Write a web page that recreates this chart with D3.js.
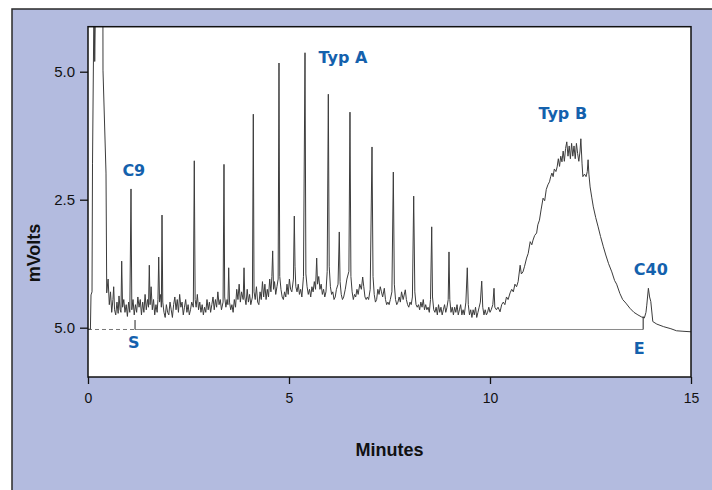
<!DOCTYPE html>
<html>
<head>
<meta charset="utf-8">
<script src="https://cdn.jsdelivr.net/npm/d3@7"></script>
<style>
  body { margin: 0; background: #fff; }
  svg { display: block; }
</style>
</head>
<body>
<div id="chart"></div>
<script>
// Dimensions
const width = 712, height = 490;
const plot = { left: 88, right: 691, top: 26.7, bottom: 377 };

const trace = [
  [0.00, -0.03], [0.06, -0.03], [0.075, 0.64], [0.10, 0.70], [0.112, 3.2], [0.15, 6.5], [0.167, 5.2], [0.19, 6.5],
  [0.37, 6.5], [0.373, 5.03], [0.448, 3.02], [0.466, 0.68],
  [0.50, 0.95], [0.53, 0.45], [0.56, 0.70], [0.59, 0.30], [0.62, 0.55], [0.639, 0.80], [0.66, 0.35], [0.69, 0.25],
  [0.72, 0.50], [0.75, 0.28], [0.771, 0.62], [0.80, 0.35], [0.82, 0.30], [0.838, 1.30], [0.86, 0.40], [0.89, 0.55],
  [0.92, 0.30], [0.95, 0.45], [0.98, 0.22], [1.01, 0.50], [1.04, 0.30], [1.07, 2.71], [1.09, 0.35], [1.12, 0.55],
  [1.15, 0.25], [1.18, 0.45], [1.21, 0.30], [1.24, 0.60], [1.27, 0.40], [1.30, 0.55], [1.33, 0.25], [1.36, 0.50],
  [1.39, 0.30], [1.42, 0.65], [1.45, 0.35], [1.48, 0.55], [1.505, 0.40], [1.525, 1.22], [1.545, 0.45], [1.57, 0.80],
  [1.60, 0.35], [1.63, 0.55], [1.66, 0.25], [1.69, 0.45], [1.72, 0.30], [1.74, 0.55], [1.759, 1.38], [1.78, 0.50],
  [1.81, 0.65], [1.825, 0.40], [1.841, 2.20], [1.86, 0.50], [1.89, 0.30], [1.92, 0.20], [1.95, 0.45], [1.98, 0.30],
  [2.01, 0.25], [2.04, 0.50], [2.07, 0.35], [2.10, 0.20], [2.13, 0.45], [2.16, 0.60], [2.19, 0.35], [2.22, 0.55],
  [2.25, 0.30], [2.28, 0.65], [2.31, 0.40], [2.34, 0.50], [2.37, 0.25], [2.40, 0.40], [2.43, 0.55], [2.46, 0.30],
  [2.49, 0.45], [2.52, 0.25], [2.55, 0.35], [2.58, 0.50], [2.62, 0.40], [2.644, 3.26], [2.665, 0.55], [2.69, 0.40],
  [2.72, 0.65], [2.75, 0.35], [2.78, 0.50], [2.81, 0.30], [2.84, 0.45], [2.87, 0.25], [2.90, 0.40], [2.93, 0.30],
  [2.96, 0.55], [2.99, 0.35], [3.02, 0.50], [3.05, 0.30], [3.08, 0.45], [3.11, 0.60], [3.14, 0.35], [3.17, 0.55],
  [3.20, 0.40], [3.23, 0.70], [3.26, 0.45], [3.29, 0.55], [3.32, 0.35], [3.36, 0.50], [3.383, 3.19], [3.40, 0.60],
  [3.43, 0.40], [3.46, 0.55], [3.48, 0.45], [3.50, 1.17], [3.52, 0.50], [3.55, 0.35], [3.58, 0.45], [3.61, 0.30],
  [3.64, 0.55], [3.67, 0.40], [3.70, 0.75], [3.73, 0.55], [3.76, 0.85], [3.79, 0.50], [3.82, 0.70], [3.86, 0.55],
  [3.881, 1.17], [3.90, 0.60], [3.93, 0.45], [3.96, 0.75], [3.99, 0.50], [4.02, 0.65], [4.05, 0.45], [4.09, 0.60],
  [4.112, 4.17], [4.13, 0.70], [4.16, 0.55], [4.19, 0.80], [4.22, 0.50], [4.25, 0.45], [4.28, 0.70], [4.31, 0.55],
  [4.34, 0.90], [4.37, 0.60], [4.40, 0.85], [4.43, 0.55], [4.46, 0.75], [4.49, 0.60], [4.52, 0.95], [4.55, 0.70],
  [4.574, 1.00], [4.594, 1.50], [4.615, 0.75], [4.64, 0.90], [4.67, 0.65], [4.70, 0.80], [4.73, 0.95], [4.751, 5.17],
  [4.77, 1.00], [4.80, 0.75], [4.83, 0.60], [4.86, 0.55], [4.89, 0.70], [4.92, 0.60], [4.95, 0.85], [4.98, 0.65],
  [5.01, 0.95], [5.04, 0.75], [5.07, 0.70], [5.11, 0.95], [5.132, 2.18], [5.15, 1.20], [5.17, 0.80], [5.20, 0.70],
  [5.23, 0.85], [5.26, 0.65], [5.29, 0.75], [5.32, 0.60], [5.36, 1.00], [5.398, 5.37], [5.42, 1.05], [5.45, 0.80],
  [5.48, 0.65], [5.51, 0.75], [5.54, 0.60], [5.57, 0.80], [5.60, 0.70], [5.63, 0.90], [5.66, 0.75], [5.689, 1.36],
  [5.71, 0.85], [5.74, 1.00], [5.77, 0.75], [5.80, 0.85], [5.83, 0.65], [5.86, 0.75], [5.89, 0.60], [5.92, 0.70],
  [5.95, 1.10], [5.978, 4.56], [6.00, 1.20], [6.03, 0.80], [6.06, 0.65], [6.09, 0.70], [6.12, 0.55], [6.15, 0.60],
  [6.18, 0.75], [6.22, 0.85], [6.251, 1.87], [6.27, 0.90], [6.30, 0.65], [6.33, 0.55], [6.36, 0.60], [6.40, 0.75],
  [6.44, 0.95], [6.49, 1.10], [6.517, 4.21], [6.54, 1.00], [6.57, 0.70], [6.60, 0.55], [6.63, 0.65], [6.66, 0.60],
  [6.69, 0.75], [6.72, 0.65], [6.76, 0.85], [6.80, 0.75], [6.833, 0.99], [6.86, 0.80], [6.89, 0.60], [6.92, 0.55],
  [6.95, 0.60], [6.98, 0.55], [7.02, 0.75], [7.065, 3.53], [7.09, 1.00], [7.12, 0.65], [7.15, 0.50], [7.18, 0.55],
  [7.21, 0.75], [7.24, 0.65], [7.27, 0.80], [7.30, 0.70], [7.33, 0.60], [7.371, 0.77], [7.40, 0.55], [7.43, 0.45],
  [7.46, 0.50], [7.49, 0.45], [7.52, 0.55], [7.56, 0.70], [7.595, 3.04], [7.62, 0.85], [7.65, 0.55], [7.68, 0.45],
  [7.71, 0.50], [7.74, 0.60], [7.77, 0.50], [7.80, 0.70], [7.84, 0.55], [7.893, 0.74], [7.92, 0.55], [7.95, 0.45],
  [7.98, 0.40], [8.01, 0.50], [8.04, 0.45], [8.07, 0.60], [8.102, 2.57], [8.13, 0.70], [8.16, 0.45], [8.19, 0.40],
  [8.22, 0.45], [8.25, 0.35], [8.28, 0.50], [8.31, 0.40], [8.34, 0.55], [8.37, 0.35], [8.40, 0.45], [8.43, 0.35],
  [8.46, 0.40], [8.49, 0.30], [8.52, 0.55], [8.550, 1.97], [8.57, 0.60], [8.60, 0.35], [8.63, 0.30], [8.66, 0.40],
  [8.69, 0.25], [8.72, 0.45], [8.75, 0.30], [8.78, 0.40], [8.81, 0.25], [8.84, 0.35], [8.87, 0.45], [8.90, 0.30],
  [8.93, 0.40], [8.96, 0.55], [8.980, 1.48], [9.00, 0.55], [9.03, 0.30], [9.06, 0.40], [9.09, 0.25], [9.12, 0.40],
  [9.15, 0.30], [9.18, 0.45], [9.21, 0.25], [9.24, 0.35], [9.27, 0.45], [9.30, 0.25], [9.33, 0.35], [9.36, 0.25],
  [9.40, 0.50], [9.435, 1.17], [9.46, 0.45], [9.49, 0.25], [9.52, 0.35], [9.55, 0.20], [9.58, 0.35], [9.61, 0.25],
  [9.64, 0.40], [9.67, 0.20], [9.70, 0.30], [9.73, 0.40], [9.76, 0.50], [9.794, 0.91], [9.82, 0.40], [9.85, 0.25],
  [9.88, 0.35], [9.91, 0.25], [9.94, 0.30], [9.97, 0.40], [10.00, 0.30], [10.03, 0.35], [10.07, 0.45], [10.10, 0.77],
  [10.12, 0.40], [10.16, 0.35], [10.20, 0.40], [10.25, 0.31], [10.29, 0.45], [10.33, 0.50], [10.37, 0.45], [10.41, 0.60],
  [10.45, 0.55], [10.50, 0.68], [10.54, 0.75], [10.58, 0.70], [10.62, 0.85], [10.66, 0.80], [10.70, 0.90], [10.75, 1.22],
  [10.78, 1.05], [10.82, 1.09], [10.86, 1.20], [10.91, 1.36], [10.95, 1.45], [11.00, 1.68], [11.04, 1.62], [11.07, 1.71],
  [11.11, 1.80], [11.16, 1.85], [11.19, 2.01], [11.23, 2.10], [11.27, 2.30], [11.32, 2.53], [11.36, 2.48], [11.40, 2.70],
  [11.44, 2.79], [11.48, 2.85], [11.51, 2.95], [11.54, 3.02], [11.57, 2.95], [11.60, 3.10], [11.64, 3.05], [11.67, 3.14],
  [11.70, 3.30], [11.73, 3.15], [11.76, 3.35], [11.79, 3.24], [11.82, 3.45], [11.85, 3.25], [11.88, 3.50], [11.91, 3.63],
  [11.94, 3.35], [11.97, 3.55], [12.00, 3.30], [12.03, 3.60], [12.06, 3.35], [12.09, 3.55], [12.12, 3.30], [12.15, 3.60],
  [12.18, 3.40], [12.21, 3.25], [12.24, 3.45], [12.26, 3.69], [12.29, 3.20], [12.31, 2.95], [12.35, 3.00], [12.39, 2.95],
  [12.42, 3.05], [12.44, 3.28], [12.46, 3.00], [12.49, 2.75], [12.53, 2.55], [12.57, 2.36], [12.63, 2.15], [12.69, 1.97],
  [12.75, 1.78], [12.82, 1.58], [12.88, 1.42], [12.95, 1.25], [13.03, 1.09], [13.10, 0.92], [13.15, 0.85], [13.23, 0.67],
  [13.30, 0.55], [13.38, 0.48], [13.48, 0.38], [13.58, 0.30], [13.68, 0.25], [13.77, 0.21], [13.84, 0.19], [13.88, 0.30],
  [13.90, 0.44], [13.94, 0.77], [13.97, 0.60], [14.00, 0.51], [14.05, 0.12], [14.15, 0.07], [14.32, 0.02], [14.50, -0.02],
  [14.64, -0.06], [14.80, -0.07], [15.00, -0.08]
];

// Axes
const xTicks = [0, 5, 10, 15];
const xTickLabels = ["0", "5", "10", "15"];
const yTicks = [0, 2.5, 5];
const yTickLabels = ["5.0", "2.5", "5.0"];

// Ligne de base d'intégration (début S, fin E)
const baselineLevel = -0.035;
const integrationStart = 1.17;
const integrationEnd = 13.81;

// Annotations : texte, minutes, mV
const peakLabels = [
  { text: "C9", t: 1.14, v: 2.96 },
  { text: "Typ A", t: 6.34, v: 5.17 },
  { text: "Typ B", t: 11.81, v: 4.07 },
  { text: "C40", t: 14.0, v: 1.02 }
];
const markerLabels = [
  { text: "S", t: 1.14, v: -0.40 },
  { text: "E", t: 13.71, v: -0.52 }
];

const blue = "#1461ad";

const svg = d3.select("#chart")
  .append("svg")
  .attr("width", width)
  .attr("height", height);

// Cadre extérieur
svg.append("rect")
  .attr("x", 12).attr("y", 9)
  .attr("width", width + 20).attr("height", height + 20)
  .attr("fill", "#b3bbdf")
  .attr("stroke", "#2a2a2a")
  .attr("stroke-width", 1.5);

const x = d3.scaleLinear().domain([0, 15]).range([plot.left, plot.right]);
const y = d3.scaleLinear().domain([-0.963, 5.879]).range([plot.bottom, plot.top]);

svg.append("rect")
  .attr("x", plot.left).attr("y", plot.top)
  .attr("width", plot.right - plot.left).attr("height", plot.bottom - plot.top)
  .attr("fill", "#fff");

svg.append("clipPath").attr("id", "clip")
  .append("rect")
  .attr("x", plot.left).attr("y", plot.top)
  .attr("width", plot.right - plot.left).attr("height", plot.bottom - plot.top);

// Ligne de base
svg.append("line")
  .attr("x1", x(0)).attr("x2", x(integrationStart))
  .attr("y1", y(baselineLevel)).attr("y2", y(baselineLevel))
  .attr("stroke", "#777").attr("stroke-width", 1)
  .attr("stroke-dasharray", "4,3");

svg.append("line")
  .attr("x1", x(integrationStart)).attr("x2", x(integrationEnd))
  .attr("y1", y(baselineLevel)).attr("y2", y(baselineLevel))
  .attr("stroke", "#8a8a8a").attr("stroke-width", 1);

svg.append("line")
  .attr("x1", x(integrationStart)).attr("x2", x(integrationStart))
  .attr("y1", y(baselineLevel)).attr("y2", y(0.15))
  .attr("stroke", "#222").attr("stroke-width", 1);

svg.append("line")
  .attr("x1", x(integrationEnd)).attr("x2", x(integrationEnd))
  .attr("y1", y(baselineLevel)).attr("y2", y(0.22))
  .attr("stroke", "#222").attr("stroke-width", 1);

// Chromatogramme
const line = d3.line()
  .x(d => x(d[0]))
  .y(d => y(d[1]));

svg.append("path")
  .datum(trace)
  .attr("clip-path", "url(#clip)")
  .attr("d", line)
  .attr("fill", "none")
  .attr("stroke", "#3c3c3c")
  .attr("stroke-width", 1)
  .attr("stroke-linejoin", "round");

// Bordure du graphique
svg.append("rect")
  .attr("x", plot.left).attr("y", plot.top)
  .attr("width", plot.right - plot.left).attr("height", plot.bottom - plot.top)
  .attr("fill", "none")
  .attr("stroke", "#111")
  .attr("stroke-width", 1.5);

// Axe X
const xAxis = svg.append("g")
  .attr("transform", `translate(0,${plot.bottom})`)
  .call(d3.axisBottom(x)
    .tickValues(xTicks)
    .tickFormat((d, i) => xTickLabels[i])
    .tickSize(7)
    .tickSizeOuter(0)
    .tickPadding(9));

// Axe Y
const yAxis = svg.append("g")
  .attr("transform", `translate(${plot.left},0)`)
  .call(d3.axisLeft(y)
    .tickValues(yTicks)
    .tickFormat((d, i) => yTickLabels[i])
    .tickSize(8)
    .tickSizeOuter(0)
    .tickPadding(5));

[xAxis, yAxis].forEach(g => {
  g.select(".domain").remove();
  g.selectAll(".tick line").attr("stroke", "#111").attr("stroke-width", 1.3);
  g.selectAll(".tick text")
    .attr("fill", "#111")
    .style("font-family", "'Liberation Sans', Arial, sans-serif")
    .style("font-size", "15px");
});
xAxis.selectAll(".tick text").style("font-size", "14px");

// Titres des axes
svg.append("text")
  .attr("x", (plot.left + plot.right) / 2)
  .attr("y", 456)
  .attr("text-anchor", "middle")
  .style("font-family", "'Liberation Sans', Arial, sans-serif")
  .style("font-weight", "bold")
  .style("font-size", "18px")
  .attr("fill", "#111")
  .text("Minutes");

svg.append("text")
  .attr("transform", `translate(40,253) rotate(-90)`)
  .attr("text-anchor", "middle")
  .style("font-family", "'Liberation Sans', Arial, sans-serif")
  .style("font-weight", "bold")
  .style("font-size", "18px")
  .attr("fill", "#111")
  .text("mVolts");

// Étiquettes des pics
svg.selectAll(".peak-label")
  .data(peakLabels.concat(markerLabels))
  .enter().append("text")
  .attr("class", "peak-label")
  .attr("x", d => x(d.t))
  .attr("y", d => y(d.v))
  .attr("text-anchor", "middle")
  .style("font-family", "'DejaVu Sans', sans-serif")
  .style("font-weight", "bold")
  .style("font-size", "16px")
  .attr("fill", blue)
  .text(d => d.text);
</script>
</body>
</html>
